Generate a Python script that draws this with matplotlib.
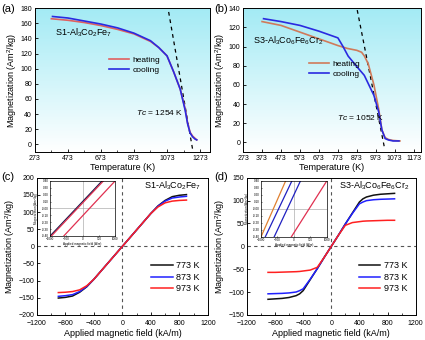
import numpy as np
import matplotlib
matplotlib.use('Agg')
import matplotlib.pyplot as plt

plt.rcParams['font.family'] = ['Liberation Sans', 'DejaVu Sans']
plt.rcParams['mathtext.fontset'] = 'custom'
plt.rcParams['mathtext.rm'] = 'Liberation Sans'
plt.rcParams['mathtext.it'] = 'Liberation Sans:italic'

# (a) S1 M-T
a_heat_T = [373, 473, 573, 673, 773, 873, 973, 1023, 1073, 1113, 1153, 1183, 1198, 1213, 1228, 1243, 1253]
a_heat_M = [166, 164, 161, 157, 152, 146, 136, 128, 117, 96, 73, 47, 28, 16, 11, 8, 6]
a_cool_T = [380, 473, 573, 673, 773, 873, 973, 1023, 1073, 1113, 1153, 1183, 1198, 1213, 1228, 1243, 1253]
a_cool_M = [169, 167, 163, 159, 154, 147, 137, 128, 117, 96, 73, 45, 27, 15, 10, 7, 6]
a_tc_T = [1083, 1230]
a_tc_M = [175, -9]

# (b) S3 M-T
b_heat_T = [373, 473, 573, 673, 773, 823, 873, 898, 913, 933, 963, 988, 1005, 1022, 1040, 1064, 1100]
b_heat_M = [126, 122, 115, 108, 101, 98, 96, 94, 90, 82, 60, 35, 13, 5, 3, 2, 1.5]
b_cool_T = [381, 473, 573, 673, 773, 800, 827, 873, 912, 963, 988, 1005, 1022, 1040, 1064, 1095]
b_cool_M = [129, 126, 122, 116, 109, 100, 90, 79, 70, 49, 32, 13, 4, 2.5, 1.5, 1.5]
b_tc_T = [875, 1019]
b_tc_M = [138, -6]

# (c) S1 M-H
H = [-900, -800, -700, -600, -500, -400, -200, 0, 200, 400, 500, 600, 700, 800, 900]
c_773 = [-151, -149, -145, -134, -118, -96, -48, 0, 48, 96, 118, 134, 145, 149, 151]
c_873 = [-146, -144, -141, -132, -117, -96, -48, 0, 48, 96, 117, 132, 141, 144, 146]
c_973 = [-135, -134, -132, -127, -115, -96, -48, 0, 48, 96, 115, 127, 132, 134, 135]

# (d) S3 M-H
Hd = [-900, -800, -700, -600, -500, -450, -400, -300, -200, -100, 0, 100, 200, 300, 400, 450, 500, 600, 700, 800, 900]
d_773 = [-116, -115, -114, -112, -108, -104, -97, -73, -49, -24, 0, 24, 49, 73, 97, 104, 108, 112, 114, 115, 116]
d_873 = [-104, -103.5, -103, -102, -100, -97, -93, -72, -49, -24, 0, 24, 49, 72, 93, 97, 100, 102, 103, 103.5, 104]
d_973 = [-57, -57, -56.5, -56, -55.5, -55, -54, -52, -46, -24, 0, 24, 46, 52, 54, 55, 55.5, 56, 56.5, 57, 57]

# insets: branch end points (x0, x1) over the inset height
c_in_lines = [(-1000, 600, '#1a1a4a'), (-960, 640, '#e03050'), (-580, 1000, '#e03050')]
d_in_lines = [(-1000, -250, '#e08030'), (-870, -60, '#2020c0'), (-600, 200, '#2020c0'), (-80, 1000, '#e03050')]

fs_tick = 5
fs_lab = 6.5
heat_c = '#e06060'
cool_c = '#2a2ae0'

fig = plt.figure(figsize=(4.25, 3.4), dpi=100)
axa = fig.add_axes([0.082, 0.553, 0.412, 0.423])
axb = fig.add_axes([0.572, 0.553, 0.418, 0.423])
axc = fig.add_axes([0.087, 0.074, 0.402, 0.403])
axd = fig.add_axes([0.581, 0.074, 0.397, 0.403])

grad = np.linspace(0, 1, 256).reshape(-1, 1)
top = np.array([0.64, 0.92, 0.96])
cols = top[None, None, :] * (1 - grad[:, :, None]) + np.ones(3)[None, None, :] * grad[:, :, None]

def style(ax):
    ax.tick_params(direction='in', length=2, width=0.6, labelsize=fs_tick, pad=2)
    ax.tick_params(which='minor', direction='in', length=1.2, width=0.5)
    for s in ax.spines.values():
        s.set_linewidth(0.7)

for ax in (axa, axb):
    ax.imshow(cols, extent=[0, 1, 0, 1], transform=ax.transAxes, aspect='auto', zorder=0)

# (a)
axa.plot(a_heat_T, a_heat_M, color=heat_c, lw=1.2, label='heating', zorder=3)
axa.plot(a_cool_T, a_cool_M, color=cool_c, lw=1.2, label='cooling', zorder=3)
axa.plot(a_tc_T, a_tc_M, 'k--', lw=0.9, dashes=(3, 3), zorder=2)
axa.set_xlim(273, 1333)
axa.set_ylim(-10, 180)
axa.set_xticks([273, 473, 673, 873, 1073, 1273])
axa.set_xticks([373, 573, 773, 973, 1173], minor=True)
axa.set_yticks(range(0, 181, 20))
axa.text(394, 147, 'S1-Al$_3$Co$_2$Fe$_7$', fontsize=6.5, va='center')
axa.text(885, 42, '$Tc$ = 1254 K', fontsize=6, va='center')
axa.legend(loc='upper left', bbox_to_anchor=(0.38, 0.72), frameon=False, fontsize=6,
           handlelength=2.4, handletextpad=0.4, labelspacing=0.3)
axa.set_xlabel('Temperature (K)', fontsize=fs_lab, labelpad=1)
axa.set_ylabel('Magnetization (Am$^2$/kg)', fontsize=fs_lab, labelpad=1)
style(axa)

# (b)
axb.plot(b_heat_T, b_heat_M, color='#d07a5a', lw=1.2, label='heating', zorder=3)
axb.plot(b_cool_T, b_cool_M, color=cool_c, lw=1.2, label='cooling', zorder=3)
axb.plot(b_tc_T, b_tc_M, 'k--', lw=0.9, dashes=(3, 3), zorder=2)
axb.set_xlim(273, 1210)
axb.set_ylim(-10, 140)
axb.set_xticks(range(273, 1174, 100))
axb.set_yticks(range(0, 141, 20))
axb.text(327, 106, 'S3-Al$_3$Co$_6$Fe$_6$Cr$_2$', fontsize=6.5, va='center')
axb.text(768, 26, '$Tc$ = 1052 K', fontsize=6, va='center')
axb.legend(loc='upper left', bbox_to_anchor=(0.33, 0.69), frameon=False, fontsize=6,
           handlelength=2.4, handletextpad=0.4, labelspacing=0.3)
axb.set_xlabel('Temperature (K)', fontsize=fs_lab, labelpad=1)
axb.set_ylabel('Magnetization (Am$^2$/kg)', fontsize=fs_lab, labelpad=1)
style(axb)

# (c), (d)
for ax, xs, m1, m2, m3, lim, step, name in [
        (axc, H, c_773, c_873, c_973, 200, 50, 'S1-Al$_3$Co$_2$Fe$_7$'),
        (axd, Hd, d_773, d_873, d_973, 150, 50, 'S3-Al$_3$Co$_6$Fe$_6$Cr$_2$')]:
    ax.axhline(0, color='#555555', ls='--', lw=0.8, dashes=(3, 3))
    ax.axvline(0, color='#555555', ls='--', lw=0.8, dashes=(3, 3))
    ax.plot(xs, m1, color='#111111', lw=1.1, label='773 K')
    ax.plot(xs, m2, color='#2020ff', lw=1.1, label='873 K')
    ax.plot(xs, m3, color='#ff2020', lw=1.1, label='973 K')
    ax.set_xlim(-1200, 1200)
    ax.set_ylim(-lim, lim)
    ax.set_xticks(range(-1200, 1201, 400))
    ax.set_xticks(range(-1000, 1001, 200), minor=True)
    ax.set_yticks(range(-lim, lim + 1, step))
    ax.text(0.96, 0.94, name, transform=ax.transAxes, fontsize=6.5, ha='right', va='center')
    ax.legend(loc='lower right', bbox_to_anchor=(1.0, 0.1), frameon=False, fontsize=6.5,
              handlelength=2.4, handletextpad=0.4, labelspacing=0.25)
    ax.set_xlabel('Applied magnetic field (kA/m)', fontsize=fs_lab, labelpad=1)
    ax.set_ylabel('Magnetization (Am$^2$/kg)', fontsize=fs_lab, labelpad=1)
    style(ax)
    ax.tick_params(axis='x', pad=4)

for pos, lines in [([0.118, 0.306, 0.153, 0.162], c_in_lines),
                   ([0.614, 0.303, 0.155, 0.165], d_in_lines)]:
    ins = fig.add_axes(pos)
    ins.axhline(0, color='#999999', lw=0.4)
    ins.axvline(0, color='#999999', lw=0.4)
    for x0, x1, col in lines:
        ins.plot([x0, x1], [-0.4, 0.4], color=col, lw=0.9)
    ins.set_xlim(-1000, 1000)
    ins.set_ylim(-0.4, 0.4)
    ins.set_xticks([-1000, -500, 0, 500, 1000])
    ins.set_yticks(np.arange(-0.4, 0.41, 0.1))
    ins.set_yticklabels(['%.2f' % v for v in np.arange(-0.4, 0.41, 0.1)])
    ins.tick_params(direction='in', length=1, width=0.4, labelsize=2.2, pad=0.8)
    ins.set_xlabel('Applied magnetic field (A/m)', fontsize=2.2, labelpad=0.5)
    ins.set_ylabel('Magnetization (Am$^2$/kg)', fontsize=2.2, labelpad=0.5)
    for s in ins.spines.values():
        s.set_linewidth(0.5)

fig.text(0.004, 0.975, '(a)', fontsize=8, va='center')
fig.text(0.503, 0.975, '(b)', fontsize=8, va='center')
fig.text(0.004, 0.478, '(c)', fontsize=8, va='center')
fig.text(0.503, 0.478, '(d)', fontsize=8, va='center')

fig.savefig('out.png', dpi=100)
